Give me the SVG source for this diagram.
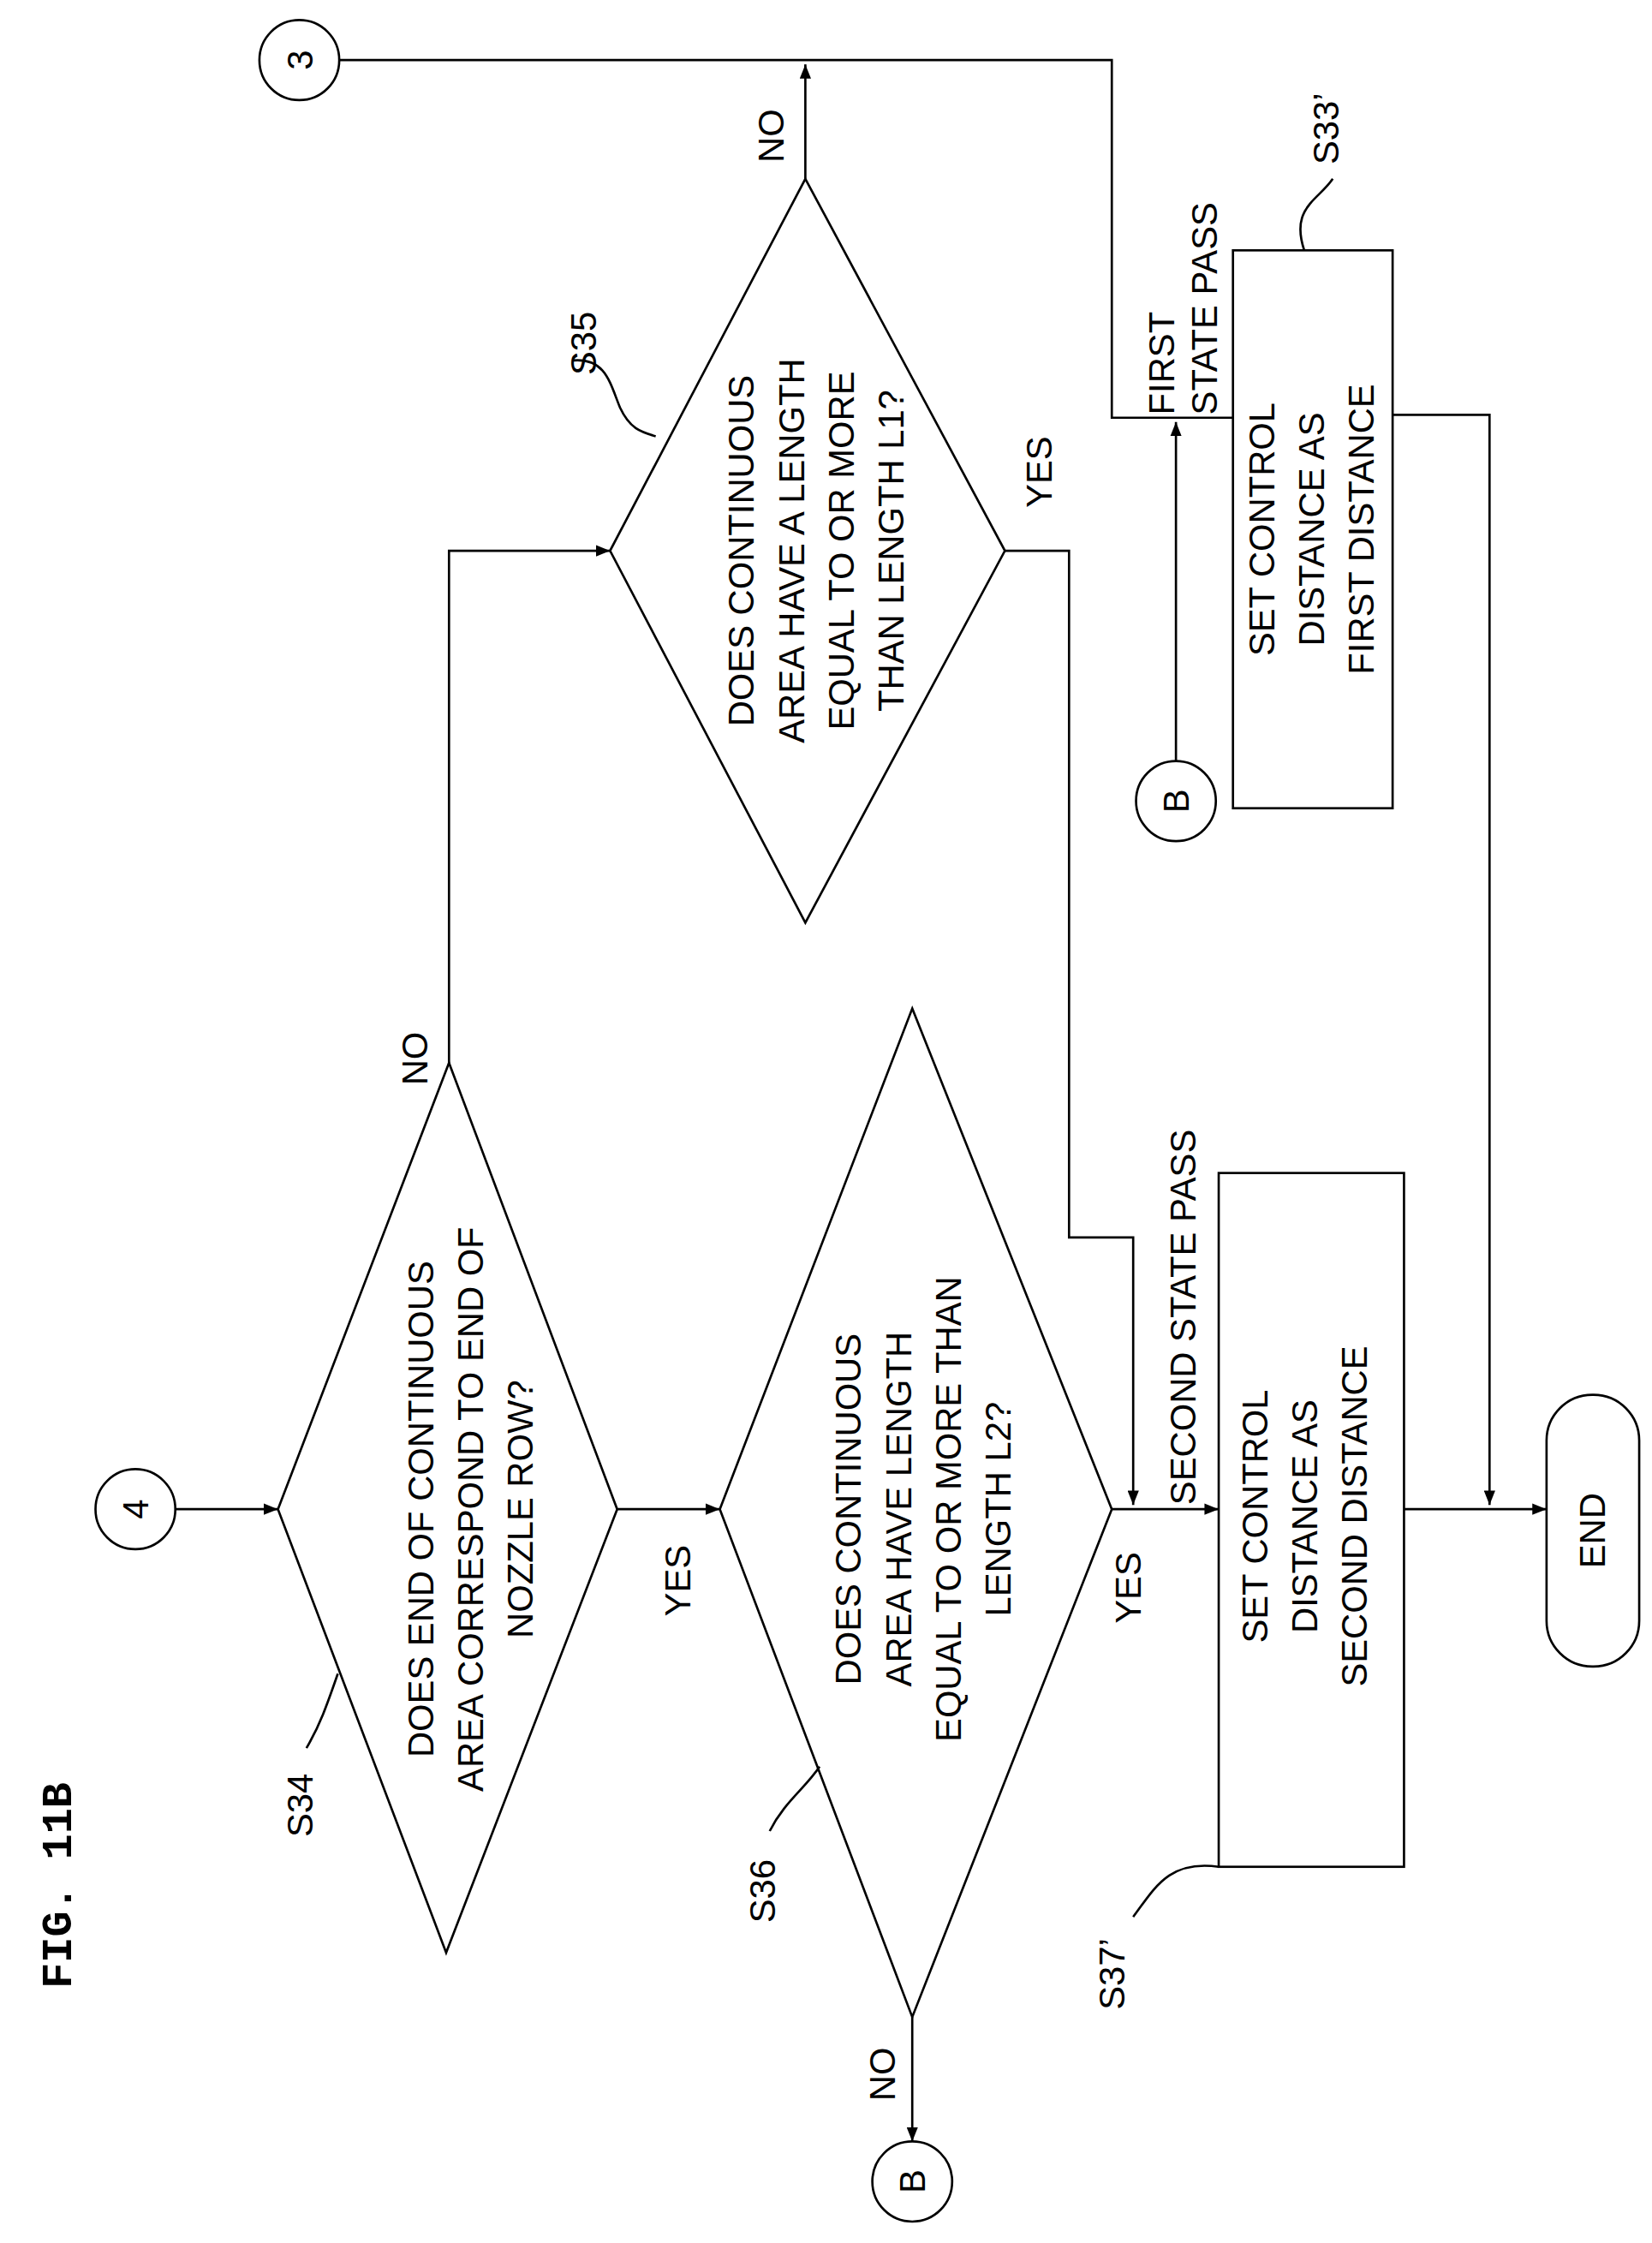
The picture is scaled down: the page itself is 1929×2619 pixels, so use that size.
<svg xmlns="http://www.w3.org/2000/svg" width="1929" height="2619" viewBox="0 0 1929 2619">
<style>
.s{fill:none;stroke:#000;stroke-width:1.6}
.n{fill:#fff;stroke:#000;stroke-width:1.6}
text{font-family:"Liberation Sans",Arial,sans-serif;font-size:25px;fill:#000}
.fig{font-family:"Liberation Mono","Courier New",monospace;font-weight:bold;font-size:30px}
</style>
<defs><marker id="a" markerWidth="10" markerHeight="8" refX="10" refY="4" orient="auto" markerUnits="userSpaceOnUse"><path d="M0,0L10,4L0,8Z" fill="#000"/></marker></defs>
<rect width="1929" height="2619" fill="#fff"/>
<g transform="scale(1.6644 1.6703)">
<text class="fig" transform="translate(50,1390) rotate(-90)">FIG. 11B</text>
<g id="connectors" class="s">
<path d="M238,42H780V292H865"/>
<path d="M565,125V45" marker-end="url(#a)"/>
<path d="M825,532V295" marker-end="url(#a)"/>
<path d="M705,385H750V865H795V1052" marker-end="url(#a)"/>
<path d="M123,1055H195" marker-end="url(#a)"/>
<path d="M315,745V385H428" marker-end="url(#a)"/>
<path d="M433,1055H505" marker-end="url(#a)"/>
<path d="M640,1410V1497" marker-end="url(#a)"/>
<path d="M780,1055H855" marker-end="url(#a)"/>
<path d="M985,1055H1085" marker-end="url(#a)"/>
<path d="M977,290H1045V1052" marker-end="url(#a)"/>
</g>
<g id="c3"><circle class="n" cx="210" cy="42" r="28"/><text transform="translate(219,42) rotate(-90)" text-anchor="middle">3</text></g>
<g id="c4"><circle class="n" cx="95" cy="1055" r="28"/><text transform="translate(104,1055) rotate(-90)" text-anchor="middle">4</text></g>
<g id="cB1"><circle class="n" cx="825" cy="560" r="28"/><text transform="translate(834,560) rotate(-90)" text-anchor="middle">B</text></g>
<g id="cB2"><circle class="n" cx="640" cy="1525" r="28"/><text transform="translate(649,1525) rotate(-90)" text-anchor="middle">B</text></g>
<g id="S35"><path class="n" d="M565,125L705,385L565,645L428,385Z"/>
<text transform="translate(529,385) rotate(-90)" text-anchor="middle"><tspan x="0">DOES CONTINUOUS</tspan><tspan x="0" dy="35">AREA HAVE A LENGTH</tspan><tspan x="0" dy="35">EQUAL TO OR MORE</tspan><tspan x="0" dy="35">THAN LENGTH L1?</tspan></text>
<text transform="translate(418,240) rotate(-90)" text-anchor="middle">S35</text>
<path class="s" d="M402,252C425,250 428,268 435,285C442,300 450,302 460,305"/></g>
<g id="S34"><path class="n" d="M315,743L433,1055L313,1365L195,1055Z"/>
<text transform="translate(304,1055) rotate(-90)" text-anchor="middle"><tspan x="0">DOES END OF CONTINUOUS</tspan><tspan x="0" dy="35">AREA CORRESPOND TO END OF</tspan><tspan x="0" dy="35">NOZZLE ROW?</tspan></text>
<text transform="translate(219,1262) rotate(-90)" text-anchor="middle">S34</text>
<path class="s" d="M215,1222C225,1205 230,1190 237,1170"/></g>
<g id="S36"><path class="n" d="M640,705L780,1055L640,1410L505,1055Z"/>
<text transform="translate(604,1055) rotate(-90)" text-anchor="middle"><tspan x="0">DOES CONTINUOUS</tspan><tspan x="0" dy="35">AREA HAVE LENGTH</tspan><tspan x="0" dy="35">EQUAL TO OR MORE THAN</tspan><tspan x="0" dy="35">LENGTH L2?</tspan></text>
<text transform="translate(544,1322) rotate(-90)" text-anchor="middle">S36</text>
<path class="s" d="M540,1280C550,1260 565,1250 575,1235"/></g>
<g id="S37"><rect class="n" x="855" y="820" width="130" height="485"/>
<text transform="translate(889,1060) rotate(-90)" text-anchor="middle"><tspan x="0">SET CONTROL</tspan><tspan x="0" dy="35">DISTANCE AS</tspan><tspan x="0" dy="35">SECOND DISTANCE</tspan></text>
<text transform="translate(789,1380) rotate(-90)" text-anchor="middle">S37’</text>
<path class="s" d="M795,1340C810,1320 820,1300 855,1305"/>
<text transform="translate(839,1052) rotate(-90)">SECOND STATE PASS</text></g>
<g id="S33"><rect class="n" x="865" y="175" width="112" height="390"/>
<text transform="translate(894,370) rotate(-90)" text-anchor="middle"><tspan x="0">SET CONTROL</tspan><tspan x="0" dy="35">DISTANCE AS</tspan><tspan x="0" dy="35">FIRST DISTANCE</tspan></text>
<text transform="translate(939,90) rotate(-90)" text-anchor="middle">S33’</text>
<path class="s" d="M935,125C925,140 905,145 915,175"/>
<text transform="translate(824,290) rotate(-90)"><tspan x="0">FIRST</tspan><tspan x="0" dy="30">STATE PASS</tspan></text></g>
<g id="END"><rect class="n" x="1085" y="975" width="65" height="190" rx="32"/>
<text transform="translate(1126,1070) rotate(-90)" text-anchor="middle">END</text></g>
<g id="labels">
<text transform="translate(484,1105) rotate(-90)" text-anchor="middle">YES</text>
<text transform="translate(800,1110) rotate(-90)" text-anchor="middle">YES</text>
<text transform="translate(738,330) rotate(-90)" text-anchor="middle">YES</text>
<text transform="translate(300,740) rotate(-90)" text-anchor="middle">NO</text>
<text transform="translate(550,95) rotate(-90)" text-anchor="middle">NO</text>
<text transform="translate(628,1450) rotate(-90)" text-anchor="middle">NO</text>
</g>
</g>
</svg>
